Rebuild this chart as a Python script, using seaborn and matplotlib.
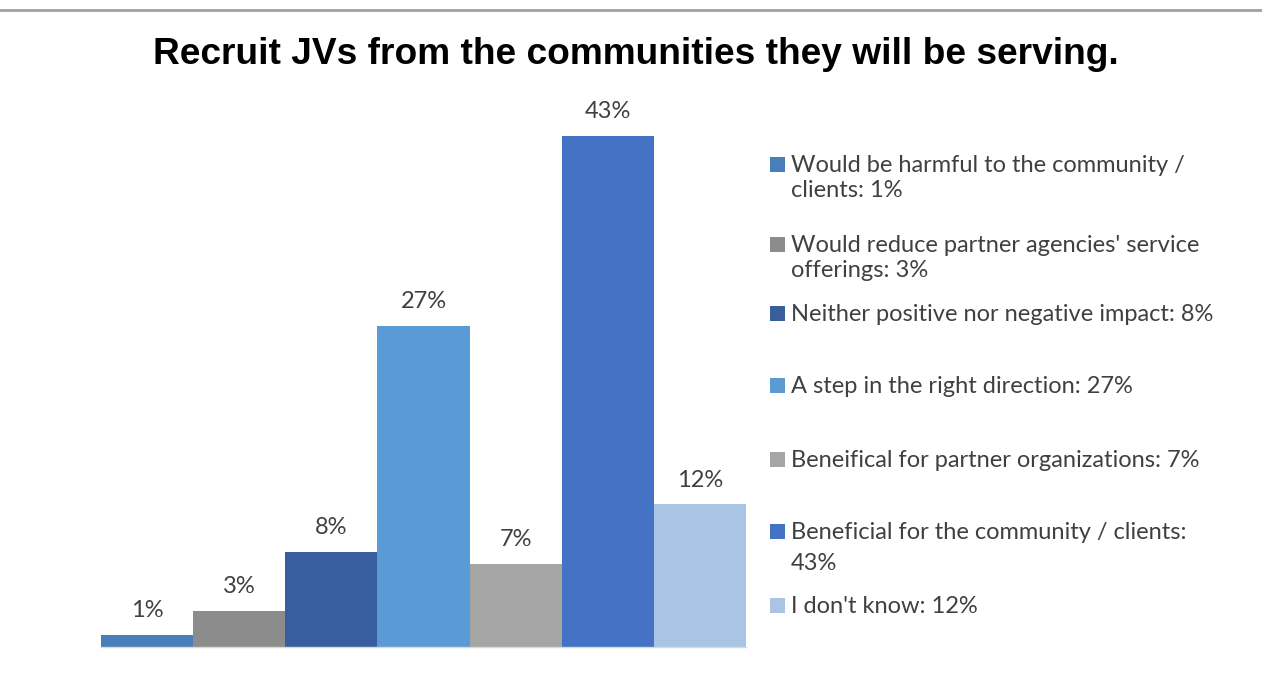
import matplotlib
matplotlib.use("Agg")
import matplotlib.pyplot as plt
import seaborn as sns
import pandas as pd
from matplotlib.patches import Rectangle
from matplotlib.lines import Line2D

categories = [
    "Would be harmful to the community /\nclients: 1%",
    "Would reduce partner agencies' service\nofferings: 3%",
    "Neither positive nor negative impact: 8%",
    "A step in the right direction: 27%",
    "Beneifical for partner organizations: 7%",
    "Beneficial for the community / clients:\n43%",
    "I don't know: 12%",
]
values = [1, 3, 8, 27, 7, 43, 12]
value_labels = ["1%", "3%", "8%", "27%", "7%", "43%", "12%"]
colors = ["#4A7EBB", "#8C8C8C", "#385E9F", "#5B9BD5", "#A5A5A5", "#4472C4", "#AAC4E6"]
title = "Recruit JVs from the communities they will be serving."

sns.set_theme(style="white")
plt.rcParams["font.family"] = ["Lato", "DejaVu Sans"]

df = pd.DataFrame({"category": categories, "value": values})

W, H = 1262, 673
fig = plt.figure(figsize=(W / 100, H / 100), dpi=100)
ax = fig.add_axes([101 / W, 1 - 647 / H, (746 - 101) / W, 594 / H])

sns.barplot(data=df, x="category", y="value", hue="category", palette=colors,
            order=categories, hue_order=categories, width=1.0, dodge=False,
            legend=False, ax=ax, saturation=1, linewidth=0)
ax.set_xlim(-0.5, 6.5)
ax.set_ylim(0, 50)
ax.set_xticks([])
ax.set_yticks([])
ax.set_xlabel("")
ax.set_ylabel("")
for s in ["top", "right", "left"]:
    ax.spines[s].set_visible(False)
ax.spines["bottom"].set_color("#D9D9D9")
ax.spines["bottom"].set_linewidth(1)

for cont, lab in zip(ax.containers, value_labels):
    ax.bar_label(cont, labels=[lab], padding=10, fontsize=17, color="#404040")

fig.text(636 / W, 1 - 64 / H, title, ha="center", va="baseline",
         fontsize=26.7, fontweight="bold", family=["Liberation Sans", "DejaVu Sans"], color="#000000")

# top rule
fig.add_artist(Line2D([0, 1], [1 - 10 / H, 1 - 10 / H], color="#A0A0A0", linewidth=2,
                      transform=fig.transFigure))

# manual legend: cap-top of first line of each entry, and line pitch (px)
cap_tops = [155, 235, 304, 376, 450, 522, 596]
pitches = [25, 25, 25, 25, 25, 31, 25]
cap_px = 17 * 100 / 72 * 0.72
for lab, col, yt, pitch in zip(categories, colors, cap_tops, pitches):
    fig.add_artist(Rectangle((770 / W, 1 - (yt + 17) / H), 15 / W, 15 / H,
                             transform=fig.transFigure, facecolor=col, edgecolor="none"))
    for i, line in enumerate(lab.split("\n")):
        base = yt + cap_px + i * pitch
        fig.text(791 / W, 1 - base / H, line, ha="left", va="baseline", fontsize=17,
                 color="#404040")

fig.savefig("out.png", dpi=100, facecolor="white")
